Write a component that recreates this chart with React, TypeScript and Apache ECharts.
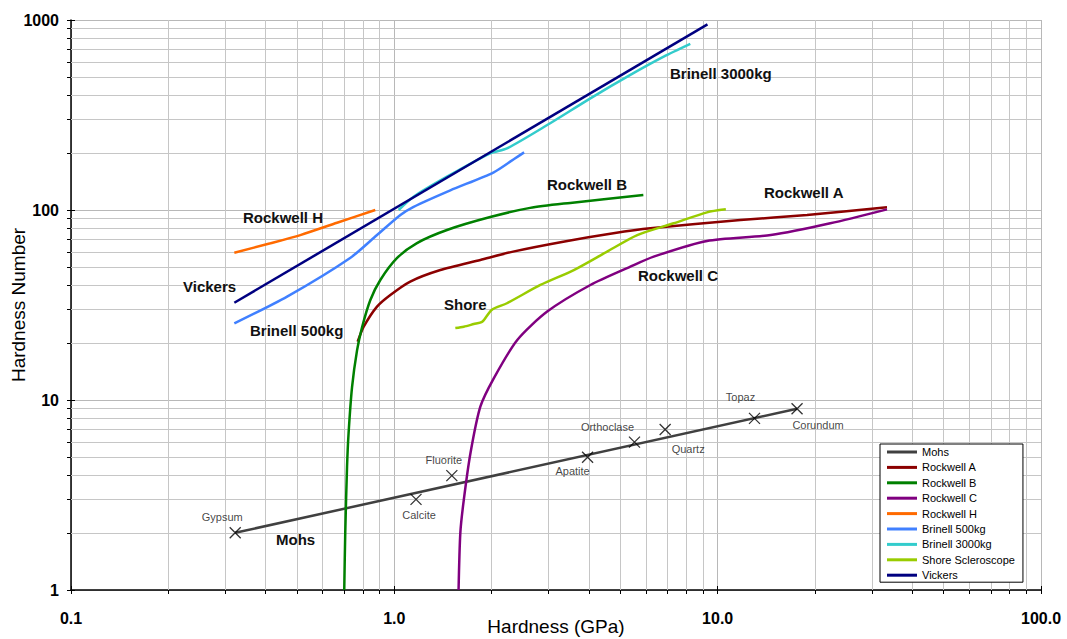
import React, { useEffect, useRef } from 'react';
import * as echarts from 'echarts';

// ---- Data (Hardness GPa, Hardness Number) ----
const seriesNames = ['Mohs', 'Rockwell A', 'Rockwell B', 'Rockwell C', 'Rockwell H', 'Brinell 500kg', 'Brinell 3000kg', 'Shore Scleroscope', 'Vickers'];
const seriesColors = ['#404040', '#8B0000', '#008000', '#800080', '#FF6A00', '#4080FF', '#33CCCC', '#99CC00', '#000080'];

const mohsLine = [[0.322, 2], [17.6, 9]];
const rockwellA = [[0.770, 20.3], [0.804, 24.3], [0.884, 31], [0.972, 35.7], [1.12, 42], [1.388, 48.3], [1.845, 54.6], [2.33, 60.4], [3.33, 68.1], [4.76, 75.4], [6.19, 80.1], [11.76, 88.6], [18.9, 94.1], [33.4, 103.3]];
const rockwellB = [[0.700, 1], [0.705, 2.0], [0.714, 4.44], [0.722, 6.7], [0.740, 11.7], [0.767, 18.3], [0.795, 24.2], [0.843, 33.6], [0.905, 42.8], [1.02, 55.9], [1.175, 67], [1.455, 78.5], [1.98, 91.8], [2.63, 102.6], [3.50, 109], [5.89, 120]];
const rockwellC = [[1.58, 1], [1.60, 2.0], [1.64, 2.98], [1.72, 5.26], [1.845, 9.22], [2.03, 13.0], [2.40, 20.7], [2.97, 29.2], [4.04, 40.3], [5.37, 50.3], [6.34, 56.8], [9.27, 68.7], [14.6, 73.8], [22.3, 85.1], [33.4, 100.8]];
const rockwellH = [[0.320, 59.6], [0.414, 66.8], [0.512, 73.8], [0.665, 85.7], [0.873, 100]];
const brinell500 = [[0.320, 25.3], [0.466, 35], [0.730, 55.9], [0.884, 73.8], [1.044, 94.1], [1.147, 104], [1.49, 127], [2.03, 158], [2.34, 185], [2.52, 201]];
const brinell3000 = [[1.031, 100], [1.147, 117.5], [1.455, 149.7], [1.98, 198.7], [2.23, 211], [2.97, 280], [4.04, 387], [5.37, 514], [6.81, 641], [8.23, 748]];
const shore = [[1.544, 23.9], [1.64, 24.3], [1.76, 25.1], [1.87, 25.8], [2.00, 29.8], [2.23, 32.3], [2.83, 40.3], [3.59, 48.3], [4.55, 60.4], [5.64, 73.8], [7.31, 85.1], [9.27, 97.2], [10.6, 100.8]];
const vickers = [[0.32, 32.5], [9.3, 948]];

const mohsMinerals = ['Gypsum', 'Calcite', 'Fluorite', 'Apatite', 'Orthoclase', 'Quartz', 'Topaz', 'Corundum'];
const mohsGPa = [0.322, 1.167, 1.506, 3.96, 5.53, 6.88, 13.0, 17.6];
const mohsNumber = [2, 3, 4, 5, 6, 7, 8, 9];

const xTickLabels = ['0.1', '1.0', '10.0', '100.0'];
const yTickLabels = ['1', '10', '100', '1000'];

// ---- Styling / layout (not data) ----
const mineralLabelOffsets = [[-13, -16], [3, 16], [-8, -16], [-15, 14], [-27, -15], [23, 20], [-14, -21], [21, 16]];
const annotations = [
  { text: 'Brinell 3000kg', x: 670, y: 73 },
  { text: 'Rockwell B', x: 547, y: 184 },
  { text: 'Rockwell H', x: 243, y: 217 },
  { text: 'Rockwell A', x: 764, y: 192 },
  { text: 'Vickers', x: 183, y: 286 },
  { text: 'Shore', x: 444, y: 304 },
  { text: 'Rockwell C', x: 638, y: 275 },
  { text: 'Brinell 500kg', x: 250, y: 330 },
  { text: 'Mohs', x: 276, y: 539 },
];
const smoothCurves = [false, true, true, true, true, true, true, true, false];

const FONT = 'Liberation Sans, Arial, sans-serif';
const xDecades = [0.1, 1, 10];
const yDecades = [1, 10, 100];
const multipliers = [2, 3, 4, 5, 6, 7, 8, 9];
const xMinor = xDecades.flatMap((d) => multipliers.map((m) => +(d * m).toPrecision(6)));
const yMinor = yDecades.flatMap((d) => multipliers.map((m) => +(d * m).toPrecision(6)));
const xAllTicks = [0.1, 1, 10, 100, ...xMinor];
const yAllTicks = [1, 10, 100, 1000, ...yMinor];

function buildOption() {
  const curves = [mohsLine, rockwellA, rockwellB, rockwellC, rockwellH, brinell500, brinell3000, shore, vickers];
  const lineSeries = curves.map((data, i) => ({
    name: seriesNames[i],
    type: 'line',
    data,
    showSymbol: false,
    symbol: 'none',
    smooth: smoothCurves[i] ? 0.25 : false,
    z: 3,
    lineStyle: { color: seriesColors[i], width: 2.5 },
    itemStyle: { color: seriesColors[i] },
  }));

  const gridColor = '#c6c6c6';
  const markerSeries = {
    name: 'Mohs minerals',
    type: 'scatter',
    z: 4,
    symbol: 'path://M0,0L10,10M10,0L0,10',
    symbolSize: 11,
    itemStyle: { color: 'rgba(0,0,0,0)', borderColor: '#000', borderWidth: 1.3 },
    data: mohsMinerals.map((name, i) => ({
      name,
      value: [mohsGPa[i], mohsNumber[i]],
      label: {
        show: true,
        position: 'inside',
        formatter: name,
        offset: mineralLabelOffsets[i],
        fontSize: 11,
        fontFamily: FONT,
        color: '#111',
      },
    })),
    markLine: {
      silent: true,
      z: 1,
      symbol: ['none', 'none'],
      label: { show: false },
      lineStyle: { color: gridColor, width: 1, type: 'solid' },
      emphasis: { disabled: true },
      data: [
        ...xMinor.map((v) => ({ xAxis: v })),
        ...yMinor.map((v) => ({ yAxis: v })),
      ],
    },
  };

  const xLabelFmt = (v: number) => {
    const idx = [0.1, 1, 10, 100].findIndex((t) => Math.abs(Math.log10(t) - Math.log10(v)) < 1e-6);
    return idx >= 0 ? xTickLabels[idx] : '';
  };
  const yLabelFmt = (v: number) => {
    const idx = [1, 10, 100, 1000].findIndex((t) => Math.abs(Math.log10(t) - Math.log10(v)) < 1e-6);
    return idx >= 0 ? yTickLabels[idx] : '';
  };

  return {
    animation: false,
    backgroundColor: '#ffffff',
    textStyle: { fontFamily: FONT },
    grid: { left: 71, right: 26, top: 20, bottom: 49, containLabel: false, outerBoundsMode: 'none' },
    xAxis: [
      {
        type: 'log',
        logBase: 10,
        min: 0.1,
        max: 100,
        position: 'bottom',
        name: 'Hardness (GPa)',
        nameLocation: 'middle',
        nameGap: 27,
        nameMoveOverlap: false,
        nameTextStyle: { fontSize: 19, color: '#000', fontFamily: FONT },
        axisLine: { show: true, onZero: false, lineStyle: { color: '#000', width: 1.5 } },
        axisTick: { show: true, inside: false, length: 4, customValues: xAllTicks, lineStyle: { color: '#000', width: 1 } },
        axisLabel: { show: true, margin: 20, fontSize: 16, fontWeight: 'bold', color: '#000', fontFamily: FONT, formatter: xLabelFmt, showMinLabel: true, showMaxLabel: true },
        splitLine: { show: true, lineStyle: { color: '#b8b8b8', width: 1 } },
      },
      {
        type: 'log',
        logBase: 10,
        min: 0.1,
        max: 100,
        position: 'bottom',
        axisLine: { show: false },
        axisTick: { show: true, inside: true, length: 4, customValues: xAllTicks, lineStyle: { color: '#000', width: 1 } },
        axisLabel: { show: false },
        splitLine: { show: false },
      },
    ],
    yAxis: [
      {
        type: 'log',
        logBase: 10,
        min: 1,
        max: 1000,
        position: 'left',
        name: 'Hardness Number',
        nameLocation: 'middle',
        nameGap: 43,
        nameRotate: 90,
        nameMoveOverlap: false,
        nameTextStyle: { fontSize: 19, color: '#000', fontFamily: FONT },
        axisLine: { show: true, onZero: false, lineStyle: { color: '#000', width: 1.5 } },
        axisTick: { show: true, inside: false, length: 4, customValues: yAllTicks, lineStyle: { color: '#000', width: 1 } },
        axisLabel: { show: true, margin: 12, fontSize: 16, fontWeight: 'bold', color: '#000', fontFamily: FONT, formatter: yLabelFmt, showMinLabel: true, showMaxLabel: true },
        splitLine: { show: true, lineStyle: { color: '#b8b8b8', width: 1 } },
      },
      {
        type: 'log',
        logBase: 10,
        min: 1,
        max: 1000,
        position: 'left',
        axisLine: { show: false },
        axisTick: { show: true, inside: true, length: 4, customValues: yAllTicks, lineStyle: { color: '#000', width: 1 } },
        axisLabel: { show: false },
        splitLine: { show: false },
      },
    ],
    legend: {
      show: true,
      data: seriesNames,
      orient: 'vertical',
      left: 880,
      top: 444,
      padding: [1, 8, 0, 7],
      itemWidth: 30,
      itemHeight: 3,
      itemGap: 1.4,
      icon: 'rect',
      backgroundColor: '#fff',
      borderColor: '#000',
      borderWidth: 1,
      borderRadius: 0,
      selectedMode: false,
      textStyle: { fontSize: 11, color: '#000', fontFamily: FONT, lineHeight: 14 },
    },
    graphic: annotations.map((a) => ({
      type: 'text',
      x: a.x,
      y: a.y,
      z: 10,
      silent: true,
      style: { text: a.text, font: `bold 15px ${FONT}`, fill: '#111', verticalAlign: 'middle', align: 'left' },
    })),
    series: [...lineSeries, markerSeries],
  };
}

export default function App() {
  const ref = useRef<HTMLDivElement>(null);
  useEffect(() => {
    if (!ref.current) return;
    const chart = echarts.init(ref.current, null, { renderer: 'svg' });
    chart.setOption(buildOption() as any);
    return () => chart.dispose();
  }, []);
  return (
    <div
      ref={ref}
      style={{ position: 'fixed', left: 0, top: 0, width: 1067, height: 639, background: '#fff' }}
    />
  );
}
